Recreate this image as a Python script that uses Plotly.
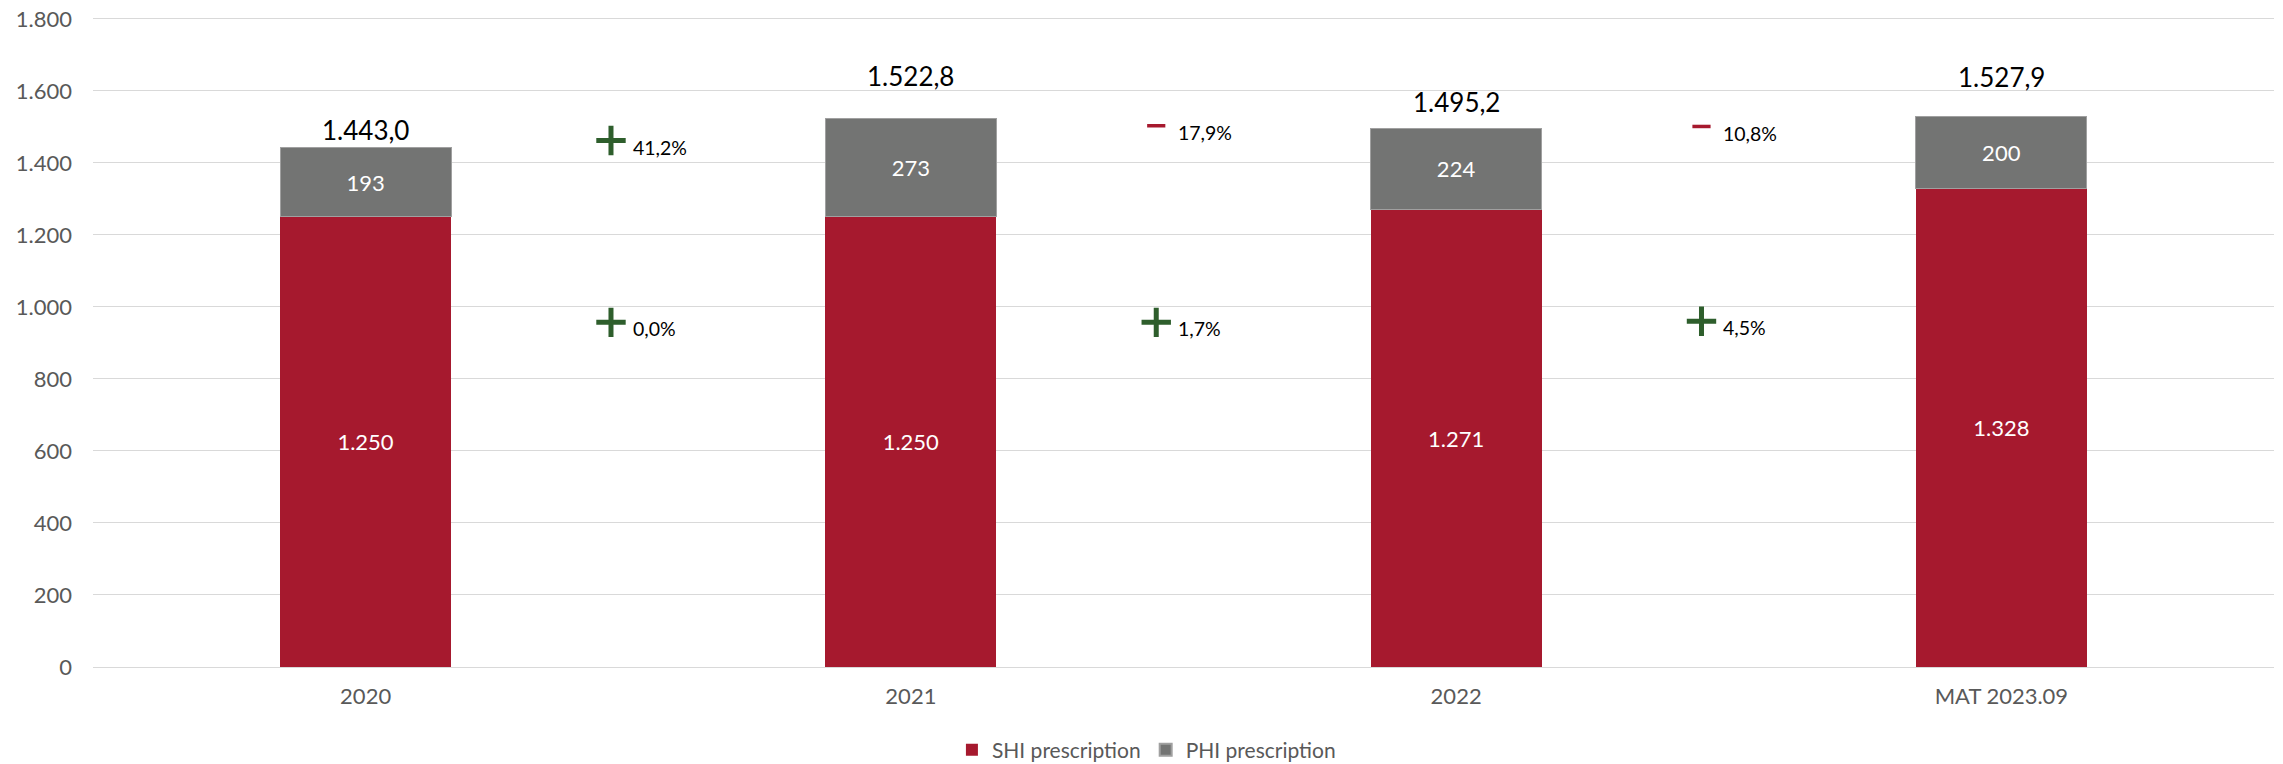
import plotly.graph_objects as go

# ---------------- data ----------------
categories = ["2020", "2021", "2022", "MAT 2023.09"]
shi_values = [1250, 1250, 1271, 1328]
phi_values = [193, 273, 224, 200]
totals = [1443.0, 1522.8, 1495.2, 1527.9]
# year-on-year changes (between consecutive categories)
phi_changes = [41.2, -17.9, -10.8]
shi_changes = [0.0, 1.7, 4.5]
y_ticks = [0, 200, 400, 600, 800, 1000, 1200, 1400, 1600, 1800]

# ---------------- layout helpers ----------------
RED = "#A6192E"
GREY = "#737473"
GREEN = "#2E5E2C"
FONT = "Lato"
PAGE_OFFSET = 8           # default body margin of the html page
W, H = 2283 - PAGE_OFFSET, 764 - PAGE_OFFSET
Y_MAX = 1805              # a hair above the top tick so its gridline is drawn
ML, MR, MT, MB = 93 - PAGE_OFFSET, 9, 19 - PAGE_OFFSET - 2, 97

# label heights (data units) placed by hand in the original
total_label_y = [1492, 1642, 1570, 1639]
phi_change_y = [1444, 1483, 1481]
shi_change_y = [939, 939, 942]
SIGN_DY = 18          # sign sits slightly above the text
SIGN_DX = -0.05       # sign left of midpoint (category units)
TEXT_DX = -0.014      # percentage text start


def fmt_de(v, dec=0):
    s = f"{v:,.{dec}f}"
    return s.replace(",", "X").replace(".", ",").replace("X", ".")


x_idx = list(range(len(categories)))

fig = go.Figure()
fig.add_trace(go.Bar(
    x=x_idx, y=shi_values, name="SHI prescription",
    marker=dict(color=RED, line=dict(width=0)),
    width=0.314,
    text=[fmt_de(v) for v in shi_values],
    textposition="inside", insidetextanchor="middle", textangle=0,
    textfont=dict(color="white", size=22, family=FONT),
    constraintext="none",
    hoverinfo="skip",
))
fig.add_trace(go.Bar(
    x=x_idx, y=phi_values, name="PHI prescription",
    marker=dict(color=GREY, line=dict(width=1, color="#a0a0a0")),
    width=0.314,
    text=[fmt_de(v) for v in phi_values],
    textposition="inside", insidetextanchor="middle", textangle=0,
    textfont=dict(color="white", size=22, family=FONT),
    constraintext="none",
    hoverinfo="skip",
))

# change signs
mids = [i + 0.5 for i in range(len(categories) - 1)]
for changes, ys in ((phi_changes, phi_change_y), (shi_changes, shi_change_y)):
    for m, c, yv in zip(mids, changes, ys):
        if c >= 0:
            fig.add_trace(go.Scatter(
                x=[m + SIGN_DX], y=[yv + SIGN_DY], mode="markers",
                marker=dict(symbol="cross-thin", size=21, line=dict(width=5, color=GREEN)),
                showlegend=False, hoverinfo="skip"))
        else:
            fig.add_trace(go.Scatter(
                x=[m + SIGN_DX], y=[yv + SIGN_DY + 2], mode="markers",
                marker=dict(symbol="line-ew", size=13, line=dict(width=3.5, color=RED)),
                showlegend=False, hoverinfo="skip"))
        fig.add_annotation(
            x=m + TEXT_DX, y=yv, text=fmt_de(abs(c), 1) + "%",
            showarrow=False, xanchor="left", yanchor="middle",
            font=dict(size=19.5, color="#000000", family=FONT))

# totals
for i, (t, yv) in enumerate(zip(totals, total_label_y)):
    fig.add_annotation(
        x=i, y=yv, text=fmt_de(t, 1), showarrow=False,
        xanchor="center", yanchor="middle",
        font=dict(size=26, color="#000000", family=FONT))

fig.update_layout(
    width=W, height=H,
    barmode="stack",
    separators=",.",
    plot_bgcolor="white", paper_bgcolor="white",
    margin=dict(l=ML, r=MR, t=MT, b=MB, pad=0, autoexpand=False),
    font=dict(family=FONT, size=22, color="#595959"),
    legend=dict(orientation="h", x=0.483, xanchor="center",
                yref="container", y=1 - (750 - PAGE_OFFSET) / H, yanchor="middle",
                font=dict(size=21, color="#595959", family=FONT),
                traceorder="normal", itemsizing="constant"),
    showlegend=True,
)
fig.update_xaxes(
    range=[-0.5, len(categories) - 0.5],
    tickmode="array", tickvals=x_idx, ticktext=categories,
    showgrid=False, zeroline=False, showline=False, ticks="",
    ticklabelstandoff=14, automargin=False,
    tickfont=dict(size=22, color="#595959", family=FONT),
)
fig.update_yaxes(
    range=[0, Y_MAX], tickmode="array", tickvals=y_ticks, tickformat=",d",
    showgrid=True, gridcolor="#d9d9d9", gridwidth=1.3,
    zeroline=True, zerolinecolor="#d9d9d9", zerolinewidth=1.3,
    showline=False, ticks="", ticklabelstandoff=20, automargin=False,
    ticklabeloverflow="allow",
    tickfont=dict(size=22, color="#595959", family=FONT),
)

fig.write_html("out.html")
